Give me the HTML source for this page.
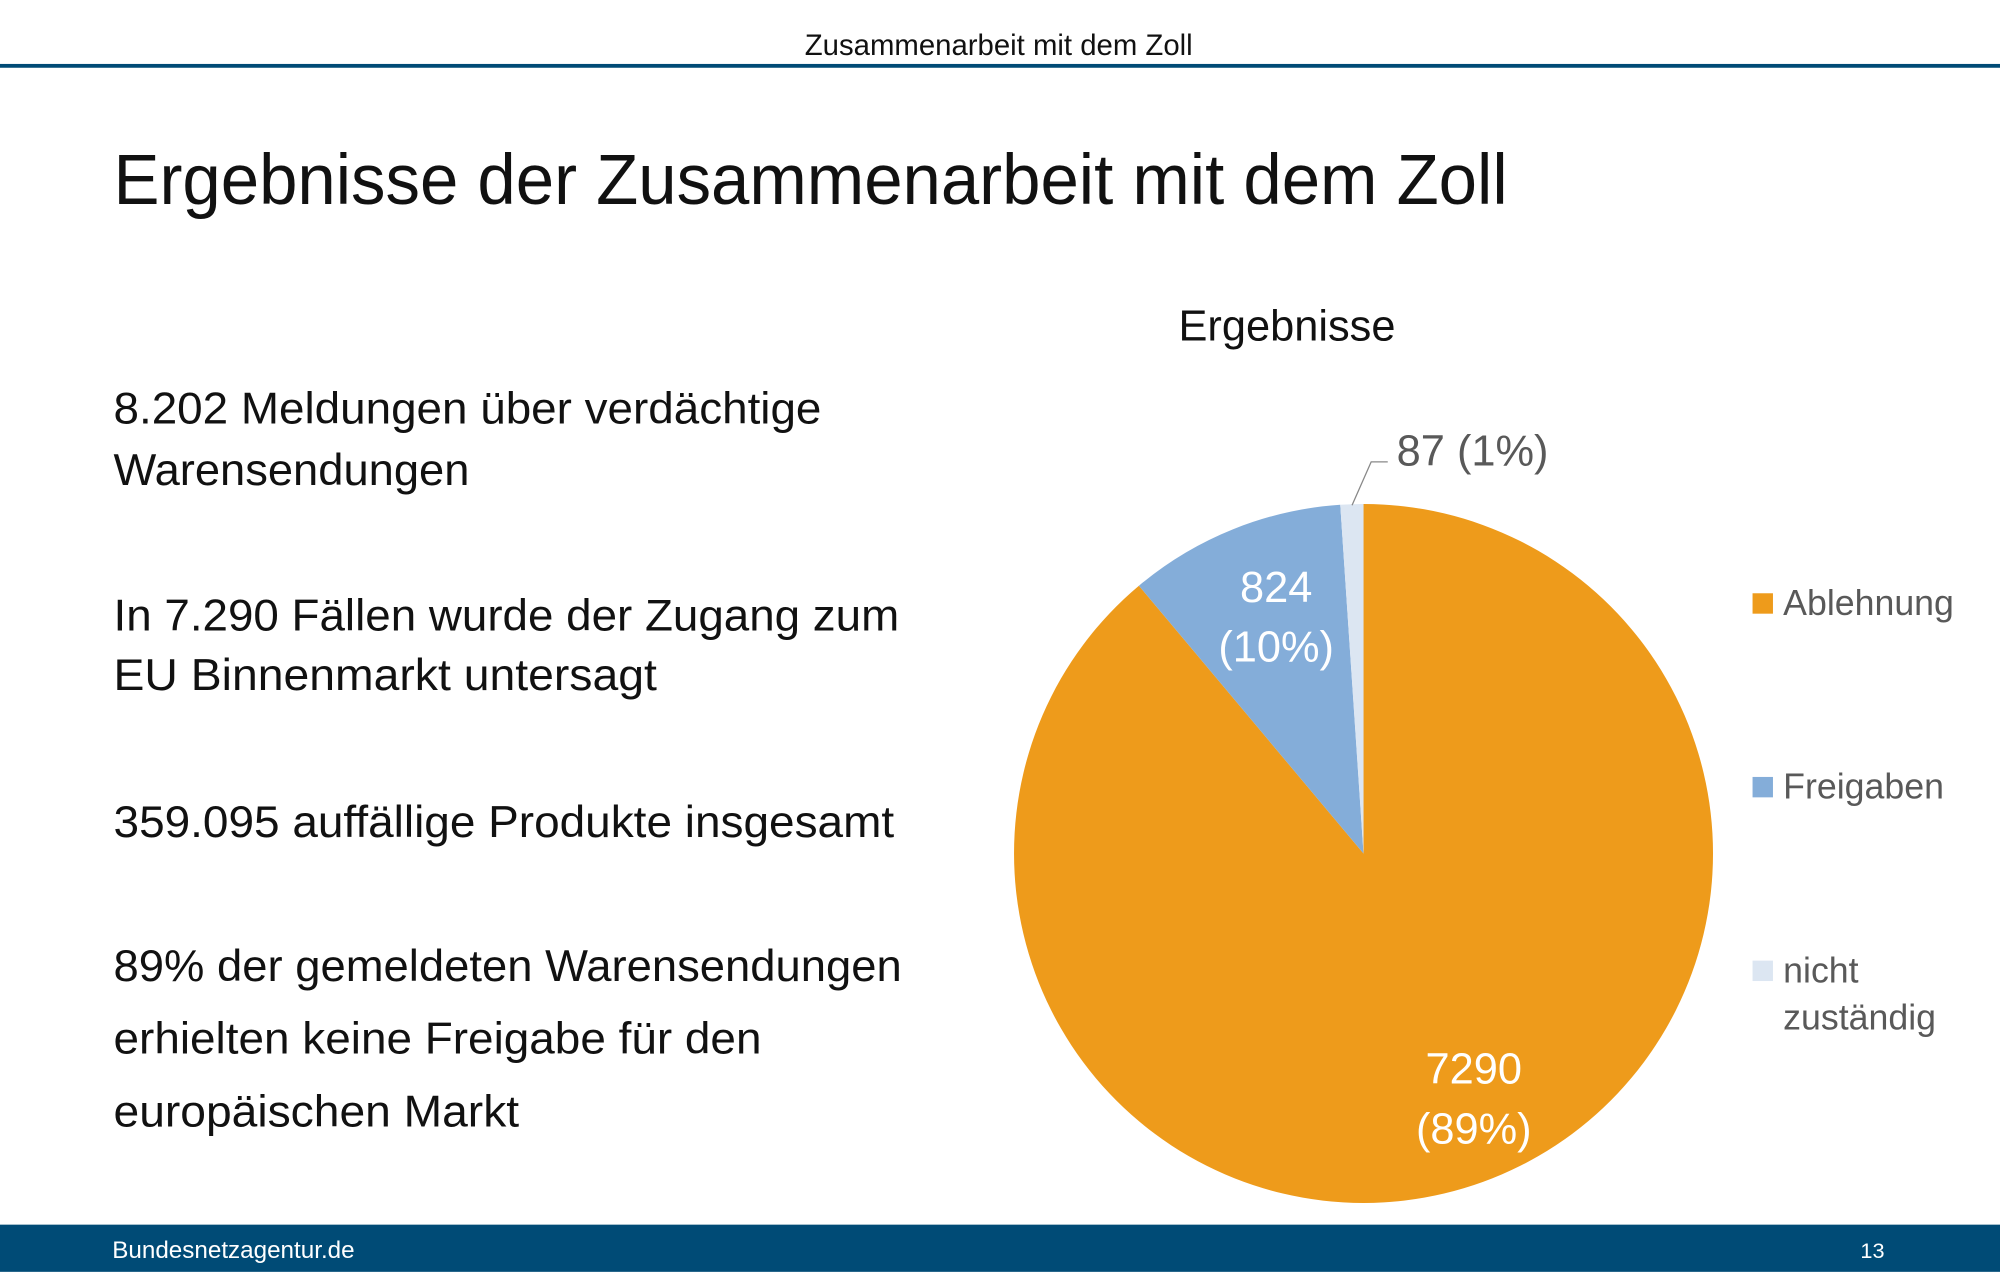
<!DOCTYPE html>
<html><head><meta charset="utf-8"><style>
html,body{margin:0;padding:0;background:#fff;}
svg{display:block;font-family:"Liberation Sans",sans-serif;}
</style></head><body>
<svg id="s" width="2000" height="1272" viewBox="0 0 1568 997">
<rect width="1568" height="997" fill="#fff"/>
<text x="783" y="43" text-anchor="middle" font-size="23" fill="#111">Zusammenarbeit mit dem Zoll</text>
<rect x="0" y="50" width="1568" height="3" fill="#004b76"/>
<text x="89" y="160" font-size="56" fill="#111" textLength="1093" lengthAdjust="spacingAndGlyphs">Ergebnisse der Zusammenarbeit mit dem Zoll</text>
<g font-size="35" fill="#111">
<text x="89" y="332" textLength="555" lengthAdjust="spacingAndGlyphs">8.202 Meldungen über verdächtige</text>
<text x="89" y="380" textLength="279" lengthAdjust="spacingAndGlyphs">Warensendungen</text>
<text x="89" y="494" textLength="616" lengthAdjust="spacingAndGlyphs">In 7.290 Fällen wurde der Zugang zum</text>
<text x="89" y="541" textLength="426" lengthAdjust="spacingAndGlyphs">EU Binnenmarkt untersagt</text>
<text x="89" y="656" textLength="612" lengthAdjust="spacingAndGlyphs">359.095 auffällige Produkte insgesamt</text>
<text x="89" y="769" textLength="618" lengthAdjust="spacingAndGlyphs">89% der gemeldeten Warensendungen</text>
<text x="89" y="826" textLength="508" lengthAdjust="spacingAndGlyphs">erhielten keine Freigabe für den</text>
<text x="89" y="883" textLength="318" lengthAdjust="spacingAndGlyphs">europäischen Markt</text>
</g>
<text x="1009" y="267" text-anchor="middle" font-size="34" fill="#111">Ergebnisse</text>
<g id="pie"></g>
<polyline points="1060,396 1075,362 1088,362" fill="none" stroke="#888" stroke-width="1"/>
<g id="legend">
<rect x="1374" y="465" width="16" height="16" fill="#EE9B1B"/>
<text x="1398" y="482" font-size="28" fill="#595959">Ablehnung</text>
<rect x="1374" y="609" width="16" height="16" fill="#84ADD9"/>
<text x="1398" y="626" font-size="28" fill="#595959">Freigaben</text>
<rect x="1374" y="753" width="16" height="16" fill="#DCE6F2"/>
<text x="1398" y="770" font-size="28" fill="#595959">nicht</text>
<text x="1398" y="807" font-size="28" fill="#595959">zuständig</text>
</g>
<rect x="0" y="960" width="1568" height="37" fill="#004b76"/>
<text x="88" y="986" font-size="19" fill="#fff">Bundesnetzagentur.de</text>
<text x="1468" y="986" font-size="17" fill="#fff" text-anchor="middle">13</text>
</svg>
<script>
const categories = ["Ablehnung", "Freigaben", "nicht zuständig"];
const values = [7290, 824, 87];
const percentLabels = ["89%", "10%", "1%"];
const colors = ["#EE9B1B", "#84ADD9", "#DCE6F2"];
const NS = "http://www.w3.org/2000/svg";
const cx = 1069, cy = 669, r = 274;
const labelDx = [19, 0, 0];
const labelDy = [5, -17, 0];
const g = document.getElementById("pie");
const total = values.reduce((a, b) => a + b, 0);
function pt(a, rr) { return [cx + rr * Math.sin(a), cy - rr * Math.cos(a)]; }
let a0 = 0;
values.forEach((v, i) => {
  const a1 = a0 + v / total * 2 * Math.PI;
  const p0 = pt(a0, r), p1 = pt(a1, r);
  const large = (a1 - a0) > Math.PI ? 1 : 0;
  const path = document.createElementNS(NS, "path");
  path.setAttribute("d", `M${cx},${cy} L${p0[0]},${p0[1]} A${r},${r} 0 ${large} 1 ${p1[0]},${p1[1]} Z`);
  path.setAttribute("fill", colors[i]);
  
  
  g.appendChild(path);
  const mid = (a0 + a1) / 2;
  if (i < 2) {
    const lp = pt(mid, i === 0 ? 0.72 * r : 0.67 * r);
    const lines = [String(v), "(" + percentLabels[i] + ")"];
    lines.forEach((t, k) => {
      const tx = document.createElementNS(NS, "text");
      tx.setAttribute("x", lp[0] + labelDx[i]);
      tx.setAttribute("y", lp[1] - 10 + labelDy[i] + k * 47);
      tx.setAttribute("text-anchor", "middle");
      tx.setAttribute("font-size", "34");
      tx.setAttribute("fill", "#fff");
      tx.textContent = t;
      
      
      g.appendChild(tx);
    });
  } else {
    const tx = document.createElementNS(NS, "text");
    tx.setAttribute("x", 1095);
    tx.setAttribute("y", 365);
    tx.setAttribute("font-size", "34");
    tx.setAttribute("fill", "#595959");
    tx.textContent = v + " (" + percentLabels[i] + ")";
    
    
    g.appendChild(tx);
  }
  a0 = a1;
});
</script>
</body></html>
